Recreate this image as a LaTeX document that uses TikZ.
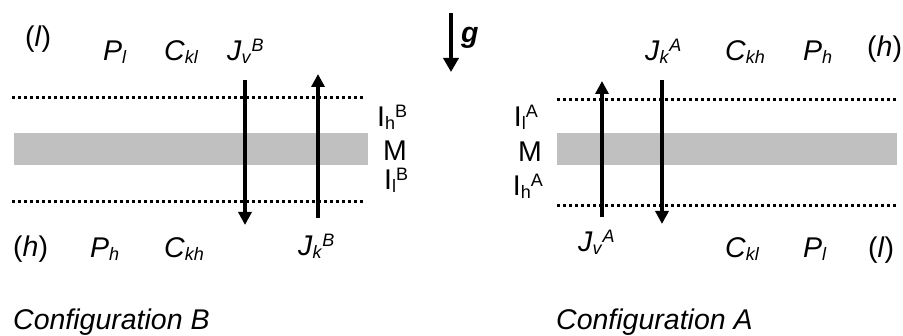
\documentclass[tikz,border=0pt]{standalone}
\usepackage{fontspec}
\setmainfont{Liberation Sans}
\usetikzlibrary{arrows.meta}
\newcommand\lsub[1]{\raisebox{-3pt}{\fontsize{18}{18}\selectfont #1}}
\newcommand\lsup[1]{\raisebox{9pt}{\fontsize{18}{18}\selectfont #1}}
\begin{document}
\begin{tikzpicture}[x=1pt,y=-1pt,
  lbl/.style={inner sep=0pt, anchor=base west, font=\fontsize{28.5}{33}\selectfont},
  rlbl/.style={lbl, anchor=base east},
  flow/.style={line width=3.3pt, -{Triangle[width=13pt,length=13pt]}},
  iface/.style={line width=3pt, dash pattern=on 3pt off 3pt},
  memb/.style={fill=membgray, draw=none}]
\definecolor{membgray}{RGB}{192,192,192}
\useasboundingbox (0,0) rectangle (903,336);
% ---------------- Configuration B ----------------
\fill[memb] (14,133) rectangle (368,165);
\draw[iface] (12,98) -- (363,98);
\draw[iface] (12,202) -- (363,202);
\node[lbl] (lB) at (25,47) {(\textit{l})};
\node[lbl] (PlB) at (103,61) {\textit{P}\lsub{\textit{l}}};
\node[lbl] (CklB) at (164,61) {\textit{C}\lsub{\textit{kl}}};
\node[lbl] (JvB) at (227,61) {\textit{J}\lsub{\textit{v}}\lsup{\textit{B}}};
\node[lbl] (IhB) at (377,127) {I\lsub{h}\lsup{B}};
\node[lbl] (MB) at (383,161) {M};
\node[lbl] (IlB) at (384,190) {I\lsub{l}\lsup{B}};
\node[lbl] (hB) at (13,257) {(\textit{h})};
\node[lbl] (PhB) at (90,258) {\textit{P}\lsub{\textit{h}}};
\node[lbl] (CkhB) at (164,258) {\textit{C}\lsub{\textit{kh}}};
\node[lbl] (JkB) at (298,256) {\textit{J}\lsub{\textit{k}}\lsup{\textit{B}}};
\node[lbl] (cfgB) at (13,330) {\textit{Configuration B}};
\coordinate (vBs) at (245,80);
\coordinate (vBe) at (245,225);
\coordinate (kBs) at (318,218);
\coordinate (kBe) at (318,74);
\draw[flow] (vBs) -- (vBe);
\draw[flow] (kBs) -- (kBe);
% ---------------- gravity ----------------
\coordinate (gs) at (451,13);
\coordinate (ge) at (451,72);
\draw[line width=4pt, -{Triangle[width=15pt,length=14pt]}] (gs) -- (ge);
\node[lbl] (g) at (461,43) {\textbf{\textit{g}}};
% ---------------- Configuration A ----------------
\fill[memb] (557,133) rectangle (897,165);
\draw[iface] (557,100) -- (897,100);
\draw[iface] (557,206) -- (897,206);
\node[lbl] (JkA) at (645,61) {\textit{J}\lsub{\textit{k}}\lsup{\textit{A}}};
\node[lbl] (CkhA) at (725,61) {\textit{C}\lsub{\textit{kh}}};
\node[lbl] (PhA) at (803,61) {\textit{P}\lsub{\textit{h}}};
\node[lbl] (hA) at (867,57) {(\textit{h})};
\node[rlbl] (IlA) at (538,127) {I\lsub{l}\lsup{A}};
\node[rlbl] (MA) at (542,162) {M};
\node[rlbl] (IhA) at (543,196) {I\lsub{h}\lsup{A}};
\node[lbl] (JvA) at (578,252) {\textit{J}\lsub{\textit{v}}\lsup{\textit{A}}};
\node[lbl] (CklA) at (725,258) {\textit{C}\lsub{\textit{kl}}};
\node[lbl] (PlA) at (803,258) {\textit{P}\lsub{\textit{l}}};
\node[lbl] (lA) at (868,258) {(\textit{l})};
\node[lbl] (cfgA) at (556,330) {\textit{Configuration A}};
\coordinate (vAs) at (602,217);
\coordinate (vAe) at (602,81);
\coordinate (kAs) at (662,80);
\coordinate (kAe) at (662,224);
\draw[flow] (vAs) -- (vAe);
\draw[flow] (kAs) -- (kAe);
\end{tikzpicture}
\end{document}
